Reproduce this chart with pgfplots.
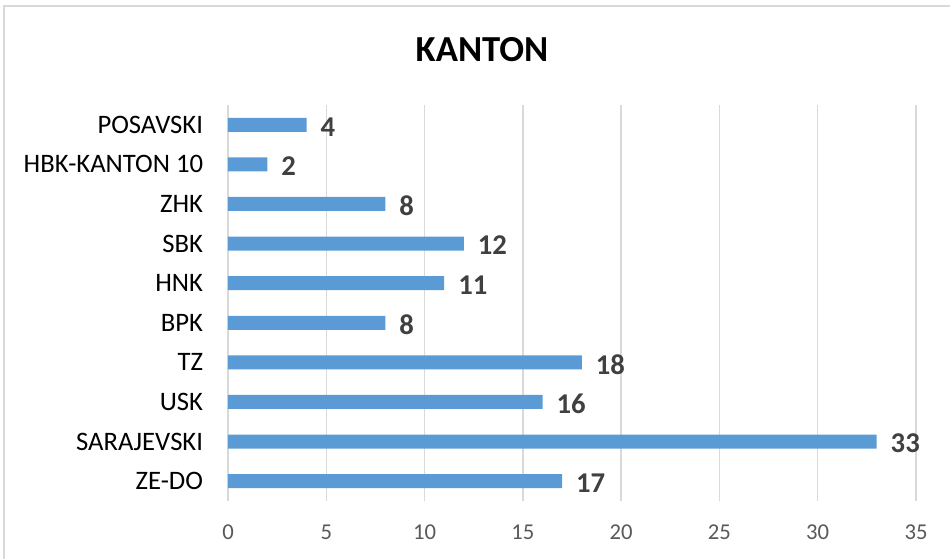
\documentclass[border=0pt]{standalone}
\usepackage{pgfplots}
\pgfplotsset{compat=1.18}
\usepackage{fontspec}
\setmainfont{Carlito}

\definecolor{barblue}{HTML}{5B9BD5}
\definecolor{lblgray}{HTML}{404040}
\definecolor{tickgray}{HTML}{595959}
\definecolor{gridgray}{HTML}{D9D9D9}

\begin{document}
\begin{tikzpicture}
\begin{axis}[
    name=ax,
    scale only axis,
    width=516pt, height=297pt,
    xbar, bar width=10.5pt,
    xmin=0, xmax=35,
    ymin=-0.5, ymax=9.5,
    xtick={0,5,...,35},
    ytick={0,...,9},
    yticklabels={ZE-DO,SARAJEVSKI,USK,TZ,BPK,HNK,SBK,ZHK,HBK-KANTON 10,POSAVSKI},
    major tick length=0pt,
    xmajorgrids=true,
    grid style={gridgray, line width=1.1pt},
    axis line style={draw=none},
    /pgf/number format/assume math mode=true,
    xticklabel style={font=\fontsize{17}{19}\selectfont, text=tickgray, inner sep=0pt, anchor=north, yshift=-17.5pt},
    yticklabel style={font=\fontsize{20}{22}\selectfont, text=black, inner sep=0pt, anchor=east, xshift=-18.5pt},
    nodes near coords,
    nodes near coords style={font=\bfseries\fontsize{21.5}{24}\selectfont, text=lblgray, anchor=west, xshift=7pt, yshift=-1.5pt},
    clip=false,
]
\addplot[fill=barblue, draw=none] coordinates {
    (17,0) (33,1) (16,2) (18,3) (8,4) (11,5) (12,6) (8,7) (2,8) (4,9)
};
\end{axis}
\begin{scope}[shift={(ax.south west)}]
\path[use as bounding box] (-171pt,-43.5pt) rectangle (541.5pt,375.75pt);
\draw[gridgray, line width=1.5pt] (-168pt,-43.5pt) -- (-168pt,371.25pt) -- (541.5pt,371.25pt);
\node[font=\bfseries\fontsize{27.5}{30}\selectfont, inner sep=0pt] at (190.5pt,338.25pt) {KANTON};
\end{scope}
\end{tikzpicture}
\end{document}
